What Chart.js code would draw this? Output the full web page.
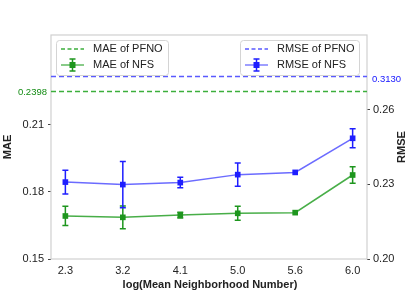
<!DOCTYPE html>
<html>
<head>
<meta charset="utf-8">
<script src="https://cdn.jsdelivr.net/npm/chart.js@4.4.1/dist/chart.umd.min.js"></script>
<style>
  html, body { margin: 0; padding: 0; background: #fff; }
  #wrap { width: 407px; height: 292px; position: relative; }
</style>
</head>
<body>
<div id="wrap"><canvas id="c" width="407" height="292"></canvas></div>
<script>
// data
var xLabels = ['2.3', '3.2', '4.1', '5.0', '5.6', '6.0'];
var maeNFS = [0.1692, 0.1686, 0.1696, 0.1704, 0.1707, 0.1875];
var maeErr = [0.0043, 0.0051, 0.0013, 0.0031, 0.0004, 0.0037];
var rmseNFS = [0.2309, 0.2299, 0.2307, 0.2339, 0.2348, 0.2485];
var rmseErr = [0.0048, 0.0093, 0.0021, 0.0047, 0.0004, 0.0038];
// PFNO reference lines (real values are off the axis, drawn at the top)
var maePFNO = 0.2248;
var rmsePFNO = 0.2733;
var maePFNOLabel = '0.2398';
var rmsePFNOLabel = '0.3130';
var maeTicks = [0.15, 0.18, 0.21];
var rmseTicks = [0.20, 0.23, 0.26];

var FONT = 'Liberation Sans, Arial, sans-serif';
var GREEN = 'rgba(40,160,40,0.85)';
var GREEN_M = 'rgb(30,150,30)';
var GREEN_D = 'rgb(60,175,60)';
var BLUE = 'rgba(70,70,255,0.8)';
var BLUE_M = 'rgb(30,30,255)';
var BLUE_D = 'rgb(90,90,255)';

function pts(arr) {
  return arr.map(function (v, i) { return { x: i, y: v }; });
}
function flat(v) {
  return [{ x: -0.25, y: v }, { x: xLabels.length - 0.75, y: v }];
}

var errorBars = {
  id: 'errorBars',
  afterDatasetsDraw: function (chart) {
    var ctx = chart.ctx;
    chart.data.datasets.forEach(function (ds) {
      if (!ds.err) return;
      var ys = chart.scales[ds.yAxisID];
      var xs = chart.scales.x;
      ctx.save();
      ctx.strokeStyle = ds.errColor;
      ctx.lineWidth = 1.5;
      ds.data.forEach(function (p, i) {
        var e = ds.err[i];
        if (e < 0.001) return;
        var px = xs.getPixelForValue(p.x);
        var y1 = ys.getPixelForValue(p.y + e);
        var y2 = ys.getPixelForValue(p.y - e);
        ctx.beginPath();
        ctx.moveTo(px, y1); ctx.lineTo(px, y2);
        ctx.moveTo(px - 3, y1); ctx.lineTo(px + 3, y1);
        ctx.moveTo(px - 3, y2); ctx.lineTo(px + 3, y2);
        ctx.stroke();
      });
      ctx.restore();
    });
  }
};

function legendBox(ctx, x, y, w, h, items) {
  ctx.save();
  ctx.fillStyle = 'rgba(255,255,255,0.85)';
  ctx.strokeStyle = '#d4d4d4';
  ctx.lineWidth = 1;
  ctx.beginPath();
  ctx.roundRect(x + 0.5, y + 0.5, w, h, 3);
  ctx.fill();
  ctx.stroke();
  items.forEach(function (it, i) {
    var cy = y + 9 + i * 16;
    var lx = x + 5;
    ctx.strokeStyle = it.color;
    ctx.lineWidth = 1.3;
    if (it.dash) {
      ctx.setLineDash([4, 2.5]);
      ctx.beginPath(); ctx.moveTo(lx, cy); ctx.lineTo(lx + 23, cy); ctx.stroke();
      ctx.setLineDash([]);
    } else {
      ctx.beginPath(); ctx.moveTo(lx, cy); ctx.lineTo(lx + 23, cy); ctx.stroke();
      var mx = lx + 11.5;
      ctx.strokeStyle = it.mark;
      ctx.lineWidth = 1.5;
      ctx.beginPath();
      ctx.moveTo(mx, cy - 6); ctx.lineTo(mx, cy + 6);
      ctx.moveTo(mx - 3, cy - 6); ctx.lineTo(mx + 3, cy - 6);
      ctx.moveTo(mx - 3, cy + 6); ctx.lineTo(mx + 3, cy + 6);
      ctx.stroke();
      ctx.fillStyle = it.mark;
      ctx.fillRect(mx - 3, cy - 3, 6, 6);
    }
    ctx.fillStyle = '#222';
    ctx.font = '11px ' + FONT;
    ctx.textBaseline = 'middle';
    ctx.textAlign = 'left';
    ctx.fillText(it.text, lx + 32, cy);
  });
  ctx.restore();
}

function vText(ctx, text, x, y) {
  ctx.save();
  ctx.fillStyle = '#222';
  ctx.font = 'bold 11px ' + FONT;
  ctx.textAlign = 'center';
  ctx.textBaseline = 'middle';
  ctx.translate(x, y);
  ctx.rotate(-Math.PI / 2);
  ctx.fillText(text, 0, 0);
  ctx.restore();
}

var decor = {
  id: 'decor',
  beforeDatasetsDraw: function (chart) {
    var a = chart.chartArea, ctx = chart.ctx;
    ctx.save();
    ctx.strokeStyle = '#d0d0d0';
    ctx.lineWidth = 1.2;
    ctx.strokeRect(a.left, a.top, a.right - a.left, a.bottom - a.top);
    ctx.restore();
  },
  afterDraw: function (chart) {
    var a = chart.chartArea, ctx = chart.ctx;
    var yl = chart.scales.y, yr = chart.scales.y1;
    var midY = (a.top + a.bottom) / 2;
    ctx.save();
    // PFNO value labels
    ctx.font = '9.5px ' + FONT;
    ctx.textBaseline = 'middle';
    ctx.fillStyle = 'rgb(20,140,20)';
    ctx.textAlign = 'right';
    ctx.fillText(maePFNOLabel, a.left - 4, yl.getPixelForValue(maePFNO) + 1);
    ctx.fillStyle = 'rgb(20,20,255)';
    ctx.textAlign = 'left';
    ctx.fillText(rmsePFNOLabel, a.right + 5, yr.getPixelForValue(rmsePFNO) + 3);
    // x axis title
    ctx.fillStyle = '#222';
    ctx.font = 'bold 11px ' + FONT;
    ctx.textAlign = 'center';
    ctx.fillText('log(Mean Neighborhood Number)', (a.left + a.right) / 2 + 1, 285);
    ctx.restore();
    vText(ctx, 'MAE', 8, midY);
    vText(ctx, 'RMSE', 402, midY);
    legendBox(ctx, a.left + 5, a.top + 5, 112, 35, [
      { text: 'MAE of PFNO', color: GREEN_D, dash: true },
      { text: 'MAE of NFS', color: GREEN, mark: GREEN_M }
    ]);
    legendBox(ctx, a.left + 189, a.top + 5, 119, 35, [
      { text: 'RMSE of PFNO', color: BLUE_D, dash: true },
      { text: 'RMSE of NFS', color: BLUE, mark: BLUE_M }
    ]);
  }
};

new Chart(document.getElementById('c').getContext('2d'), {
  type: 'line',
  data: {
    datasets: [
      {
        label: 'MAE of PFNO', data: flat(maePFNO), yAxisID: 'y',
        borderColor: GREEN_D, borderWidth: 1.4, borderDash: [5, 3],
        pointRadius: 0
      },
      {
        label: 'RMSE of PFNO', data: flat(rmsePFNO), yAxisID: 'y1',
        borderColor: BLUE_D, borderWidth: 1.4, borderDash: [5, 3],
        pointRadius: 0
      },
      {
        label: 'MAE of NFS', data: pts(maeNFS), err: maeErr, errColor: GREEN_M, yAxisID: 'y',
        borderColor: GREEN, borderWidth: 1.5, pointStyle: 'rect', pointRadius: 4,
        pointBackgroundColor: GREEN_M, pointBorderColor: GREEN_M, pointBorderWidth: 0
      },
      {
        label: 'RMSE of NFS', data: pts(rmseNFS), err: rmseErr, errColor: BLUE_M, yAxisID: 'y1',
        borderColor: BLUE, borderWidth: 1.5, pointStyle: 'rect', pointRadius: 4,
        pointBackgroundColor: BLUE_M, pointBorderColor: BLUE_M, pointBorderWidth: 0
      }
    ]
  },
  options: {
    responsive: false,
    animation: false,
    layout: { padding: { top: 35, left: 0, right: 0, bottom: 0 } },
    plugins: { legend: { display: false }, tooltip: { enabled: false } },
    scales: {
      x: {
        type: 'linear', min: -0.25, max: xLabels.length - 0.75,
        afterBuildTicks: function (s) { s.ticks = xLabels.map(function (_, i) { return { value: i }; }); },
        afterFit: function (s) { s.height = 33; },
        ticks: {
          callback: function (v) { return xLabels[v]; },
          color: '#222', font: { family: FONT, size: 11 }, padding: 5, maxRotation: 0
        },
        grid: { drawOnChartArea: false, drawTicks: false, color: 'transparent' },
        border: { display: false }
      },
      y: {
        position: 'left', min: 0.15, max: 0.25,
        afterBuildTicks: function (s) { s.ticks = maeTicks.map(function (v) { return { value: v }; }); },
        afterFit: function (s) { s.width = 51; },
        ticks: {
          callback: function (v) { return v.toFixed(2); },
          color: '#222', font: { family: FONT, size: 11 }, padding: 4
        },
        grid: { drawOnChartArea: false, tickLength: 3, color: '#444', tickWidth: 1 },
        border: { display: false }
      },
      y1: {
        position: 'right', min: 0.20, max: 0.29,
        afterBuildTicks: function (s) { s.ticks = rmseTicks.map(function (v) { return { value: v }; }); },
        afterFit: function (s) { s.width = 40; },
        ticks: {
          callback: function (v) { return v.toFixed(2); },
          color: '#222', font: { family: FONT, size: 11 }, padding: 3
        },
        grid: { drawOnChartArea: false, tickLength: 3, color: '#444', tickWidth: 1 },
        border: { display: false }
      }
    }
  },
  plugins: [errorBars, decor]
});
</script>
</body>
</html>
